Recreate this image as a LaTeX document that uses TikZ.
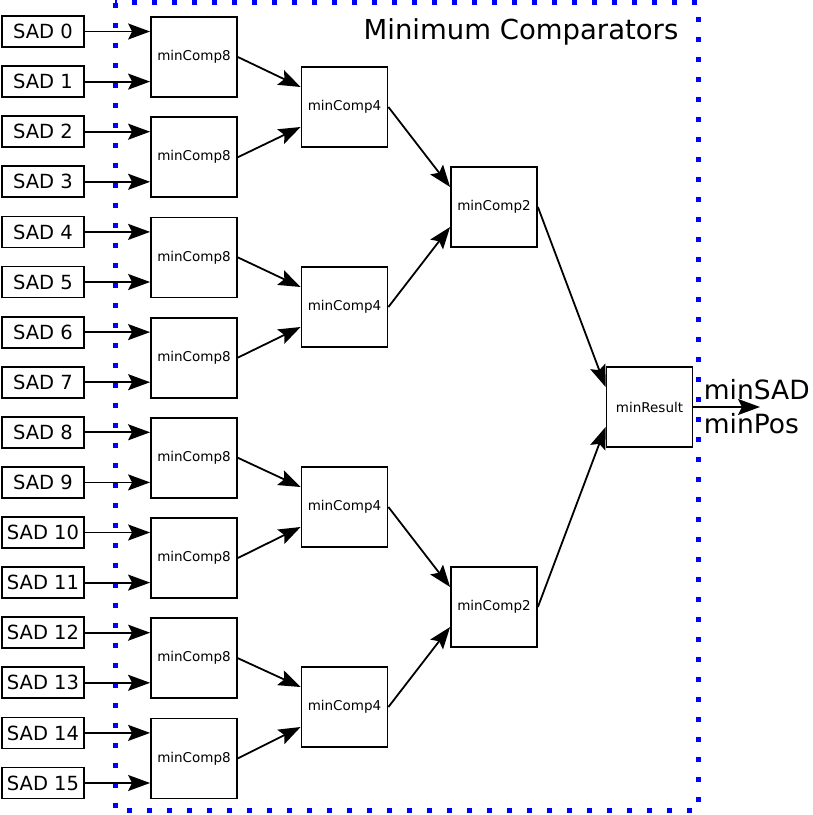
\documentclass[tikz,border=0pt]{standalone}
\usepackage{fontspec}
\setmainfont{DejaVu Sans}
\usetikzlibrary{arrows.meta}

\begin{document}
\begin{tikzpicture}[x=1pt, y=-1pt, line width=1.8pt,
        >={Stealth[length=22pt, width=16pt, inset=4pt]},
        sad/.style = {draw, minimum width=82pt, minimum height=31pt, inner sep=0pt, font=\fontsize{19.5}{22}\selectfont},
        comp/.style = {draw, minimum width=86pt, minimum height=80pt, inner sep=0pt, font=\fontsize{13.5}{16}\selectfont},
        big/.style = {inner sep=0pt, font=\fontsize{27.5}{32}\selectfont}]
        \useasboundingbox (0,0) rectangle (813,815);
        \draw[blue, line width=5pt, dash pattern=on 5pt off 15pt] (115,2.5) rectangle (698,810.5);
        \node[big] (title) at (521,32) {Minimum Comparators};

        \foreach \i in {0,...,15}
            \node[sad] (sad\i) at (43,{31.5+50.1*\i}) {SAD \i};
        \foreach \j in {0,...,7}
            \node[comp] (mc8-\j) at (194,{57+100.2*\j}) {minComp8};
        \foreach \k in {0,...,3}
            \node[comp] (mc4-\k) at (344.5,{107+200*\k}) {minComp4};
        \node[comp] (mc2-0) at (494,207) {minComp2};
        \node[comp] (mc2-1) at (494,607) {minComp2};
        \node[comp] (res) at (649.5,407) {minResult};
        \coordinate (out) at (760,407);

        \foreach \i in {0,...,15}
            \draw[->] (sad\i.east) -- (sad\i.east -| mc8-0.west);
        \foreach \j/\k/\s in {0/0/20pt,1/0/-20pt,2/1/20pt,3/1/-20pt,4/2/20pt,5/2/-20pt,6/3/20pt,7/3/-20pt}
            \draw[->] (mc8-\j.east) -- ([yshift=\s]mc4-\k.west);
        \foreach \k/\m/\s in {0/0/20pt,1/0/-20pt,2/1/20pt,3/1/-20pt}
            \draw[->] (mc4-\k.east) -- ([yshift=\s]mc2-\m.west);
        \draw[->] (mc2-0.east) -- ([yshift=20pt]res.west);
        \draw[->] (mc2-1.east) -- ([yshift=-20pt]res.west);
        \draw[->] (res.east) -- (out);
        \node[big, anchor=west, font=\fontsize{26.5}{30}\selectfont] (minsad) at (703,390) {minSAD};
        \node[big, anchor=west, font=\fontsize{26.5}{30}\selectfont] (minpos) at (703,424) {minPos};
    \end{tikzpicture}
\end{document}
